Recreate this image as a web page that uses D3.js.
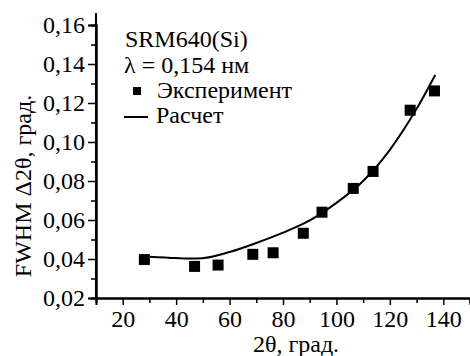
<!DOCTYPE html>
<html><head><meta charset="utf-8">
<script src="https://cdn.jsdelivr.net/npm/d3@7"></script>
<style>body{margin:0;background:#fff;font-family:'Times New Roman',serif}</style>
</head><body><svg id="c" width="470" height="356"></svg>
<script>
const expX = [28.1, 46.9, 55.7, 68.7, 76.3, 87.6, 94.6, 106.3, 113.7, 127.6, 136.7];
const expY = [0.0397, 0.0362, 0.0369, 0.0424, 0.0432, 0.0532, 0.0640, 0.0762, 0.0849, 0.1163, 0.1262];
const calcX = [30, 40, 48, 60, 70, 80, 90, 100, 110, 120, 130, 137];
const calcY = [0.0412, 0.0405, 0.0402, 0.0436, 0.0482, 0.0535, 0.0598, 0.0688, 0.0800, 0.0960, 0.1170, 0.1344];
const xTicks = [20, 40, 60, 80, 100, 120, 140];
const yTicks = [0.02, 0.04, 0.06, 0.08, 0.10, 0.12, 0.14, 0.16];
const legendLines = ["SRM640(Si)", "λ = 0,154 нм", "Эксперимент", "Расчет"];

const FS = 24, FF = "Times New Roman";
const svg = d3.select("#c");
const x = d3.scaleLinear().domain([10, 150]).range([96, 470]);
const y = d3.scaleLinear().domain([0.02, 0.16]).range([298, 25]);
const fmt = d => d3.format(".2f")(d).replace(".", ",");

const xAxis = d3.axisBottom(x).tickValues(xTicks).tickSize(7).tickPadding(5).tickFormat(d3.format("d"));
const xMinor = d3.axisBottom(x).tickValues(d3.range(30, 151, 20)).tickSize(5).tickFormat("");
const yAxis = d3.axisLeft(y).tickValues(yTicks).tickSize(8).tickPadding(3).tickFormat(fmt);
const yMinor = d3.axisLeft(y).tickValues(d3.range(0.03, 0.161, 0.02)).tickSize(5).tickFormat("");

function style(g){
  g.attr("font-family", FF).attr("font-size", FS);
  g.selectAll("path.domain").attr("stroke","#000").attr("stroke-width",2);
  g.selectAll(".tick line").attr("stroke","#000").attr("stroke-width",1.5);
  g.selectAll("text").attr("font-size",FS).attr("font-family",FF).attr("fill","#000");
}
svg.append("g").attr("transform","translate(0,298)").call(xMinor).call(style);
svg.append("g").attr("transform","translate(0,298)").call(xAxis).call(style);
svg.append("g").attr("transform","translate(96,0)").call(yMinor).call(style);
svg.append("g").attr("transform","translate(96,0)").call(yAxis).call(style);
svg.append("line").attr("x1",96).attr("x2",96).attr("y1",13).attr("y2",298).attr("stroke","#000").attr("stroke-width",2);

function txt(xp, yp, s, anchor){
  return svg.append("text").attr("x",xp).attr("y",yp).attr("font-size",FS).attr("font-family",FF)
    .attr("fill","#000").attr("text-anchor",anchor||"start").text(s);
}
txt(296, 352, "2θ, град.", "middle");
svg.append("text").attr("transform","translate(31,186) rotate(-90)").attr("text-anchor","middle")
  .attr("font-size",FS).attr("font-family",FF).attr("fill","#000").text("FWHM Δ2θ, град.");

const line = d3.line().x(d=>x(d[0])).y(d=>y(d[1])).curve(d3.curveMonotoneX);
svg.append("path").datum(calcX.map((v,i)=>[v,calcY[i]])).attr("d",line)
  .attr("fill","none").attr("stroke","#000").attr("stroke-width",2);

const s = 11;
svg.selectAll("rect.pt").data(expX.map((v,i)=>[v,expY[i]])).enter().append("rect")
  .attr("class","pt").attr("x",d=>x(d[0])-s/2).attr("y",d=>y(d[1])-s/2)
  .attr("width",s).attr("height",s).attr("fill","#000");

txt(125, 47, legendLines[0]);
txt(124, 73, legendLines[1]);
svg.append("rect").attr("x",133).attr("y",87).attr("width",8).attr("height",8).attr("fill","#000");
txt(157, 98, legendLines[2]);
svg.append("line").attr("x1",124).attr("x2",148).attr("y1",117).attr("y2",117).attr("stroke","#000").attr("stroke-width",2);
txt(156, 123, legendLines[3]);
</script></body></html>
